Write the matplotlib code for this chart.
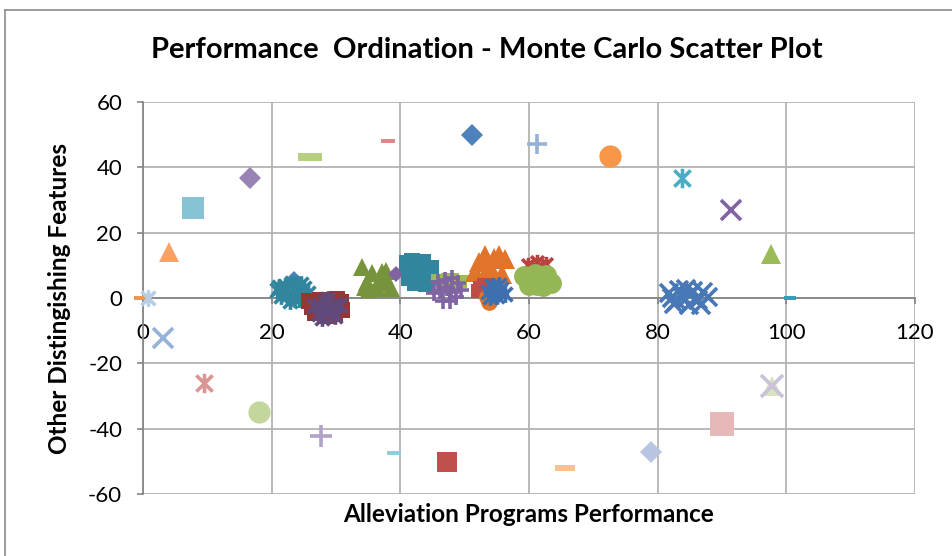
# Performance Ordination - Monte Carlo scatter (Excel style)

import matplotlib
matplotlib.use("Agg")
import matplotlib.pyplot as plt
from matplotlib.path import Path
from matplotlib.lines import Line2D

# ---- data ----
# single ordination points round the circle
outer_x = [-0.5, 0.8, 3.1, 9.5, 18.0, 27.7, 39.0, 47.2, 65.6, 78.9, 90.0, 97.7, 97.7,
           100.6, 97.6, 91.4, 83.8, 72.6, 61.2, 51.1, 38.1, 26.0, 16.6, 7.8, 4.0]
outer_y = [0.0, 0.0, -12.2, -25.9, -34.8, -42.1, -47.3, -50.1, -51.9, -47.0, -38.6, -26.8, -26.8,
           0.0, 13.6, 26.8, 36.8, 43.6, 47.0, 49.8, 48.2, 43.3, 36.8, 27.7, 14.2]

# monte carlo clouds
teal_star_x = [20.8, 21.5, 22.0, 22.6, 23.1, 23.8, 24.3, 25.0, 25.6, 21.2, 22.9, 24.6, 23.5, 22.2]
teal_star_y = [2.5, 0.5, 3.8, 1.2, 4.6, 2.0, -0.3, 3.1, 1.5, 3.3, -0.8, 4.2, 1.0, 2.7]
blue_diam_x = [23.4]
blue_diam_y = [5.5]
red_sq_x = [25.8, 26.7, 27.5, 28.4, 29.3, 30.2, 31.0, 26.3, 28.0, 29.8, 30.8, 27.2]
red_sq_y = [-1.0, -4.5, -0.5, -5.5, -2.0, -0.2, -3.8, -2.8, -3.0, -5.0, -1.2, -1.8]
purp_star_x = [26.6, 27.4, 28.3, 29.0, 29.9, 30.7, 27.9, 28.8, 29.6, 28.1]
purp_star_y = [-2.4, -4.8, -1.2, -3.5, -5.4, -2.0, -6.2, -0.3, -3.9, -3.0]
olive_tri_x = [34.0, 34.8, 35.6, 36.4, 37.2, 38.0, 38.6, 35.2, 36.9, 37.8, 34.5]
olive_tri_y = [9.5, 5.0, 7.8, 3.2, 8.0, 4.6, 3.0, 2.8, 5.8, 8.2, 3.5]
purp_diam_x = [39.4]
purp_diam_y = [7.5]
teal_sq_x = [41.0, 41.8, 42.7, 43.6, 44.5, 41.4, 42.3, 43.2, 44.0, 44.8, 42.0]
teal_sq_y = [10.8, 11.4, 9.0, 11.0, 6.5, 6.0, 4.6, 7.2, 4.4, 9.2, 8.0]
green_dash_x = [46.2, 47.0, 47.8, 48.6, 49.4, 46.8, 48.2, 49.0]
green_dash_y = [6.5, 4.2, 6.8, 4.8, 6.0, 5.4, 5.6, 4.0]
purp_plus_x = [45.2, 45.9, 46.6, 47.3, 48.0, 48.7, 49.4, 46.1, 47.7, 48.9, 46.9, 47.9]
purp_plus_y = [1.5, 4.8, -0.8, 3.0, 6.2, 0.4, 2.5, 2.2, -1.0, 4.6, 5.5, 1.8]
orange_tri_x = [51.6, 52.3, 53.1, 53.9, 54.6, 55.4, 56.2, 52.8, 54.2, 55.8, 53.5]
orange_tri_y = [8.0, 11.0, 13.2, 9.5, 12.2, 13.1, 11.8, 6.0, 6.5, 7.5, 5.0]
red_sq2_x = [52.4, 52.0, 53.0]
red_sq2_y = [3.2, 2.0, 4.0]
orange_circ_x = [53.4, 53.8, 54.0]
orange_circ_y = [0.2, -1.2, 0.9]
blue_star_x = [53.6, 54.3, 55.0, 55.7, 56.3, 54.0, 55.4, 54.8]
blue_star_y = [1.8, 3.6, 0.6, 2.8, 1.2, 0.3, 4.0, 2.2]
red_star_x = [59.8, 60.5, 61.2, 62.0, 62.7, 60.9]
red_star_y = [10.2, 9.0, 11.0, 9.4, 10.5, 8.7]
green_circ_x = [59.2, 60.0, 60.9, 61.8, 62.6, 63.5, 60.4, 62.2, 61.3]
green_circ_y = [6.8, 4.0, 7.2, 5.0, 6.9, 4.6, 5.8, 3.6, 3.9]
blue_x_x = [81.8, 82.5, 83.3, 84.0, 84.8, 85.5, 86.3, 87.1, 87.9, 83.0, 85.0, 86.7, 82.2, 84.4]
blue_x_y = [1.5, -1.8, 2.6, 0.2, -2.2, 2.0, -0.6, 1.8, 0.4, -0.8, 0.9, -2.0, 0.0, 2.9]

xticks = [0, 20, 40, 60, 80, 100, 120]
yticks = [-60, -40, -20, 0, 20, 40, 60]

# ---- excel-like markers ----
star = Path([(-1, -1), (1, 1), (-1, 1), (1, -1), (0, -1.2), (0, 1.2)],
            [Path.MOVETO, Path.LINETO, Path.MOVETO, Path.LINETO, Path.MOVETO, Path.LINETO])
dash = Path([(-1, -0.32), (1, -0.32), (1, 0.32), (-1, 0.32), (-1, -0.32)],
            [Path.MOVETO, Path.LINETO, Path.LINETO, Path.LINETO, Path.CLOSEPOLY])

# marker, colour, size for each outer point (same order as outer_x)
outer_style = [
    (dash, '#F79646', 9), (star, '#B9CDE5', 12), ('x', '#95B3D7', 15), (star, '#D99694', 14),
    ('o', '#C3D69B', 16), ('+', '#B3A2C7', 16), (dash, '#93CDDD', 10), ('s', '#C0504D', 15),
    (dash, '#FAC090', 15), ('D', '#B9C5E0', 11), ('s', '#E6B9B8', 17), ('^', '#D7E4BD', 14),
    ('x', '#CCC1DA', 16), (dash, '#31A0B8', 9), ('^', '#9BBB59', 15), ('x', '#8064A2', 15),
    (star, '#4BACC6', 14), ('o', '#F79646', 16), ('+', '#95B3D7', 15), ('D', '#4F81BD', 11),
    (dash, '#DA8A88', 10), (dash, '#B3CF7F', 17), ('D', '#9983B5', 11), ('s', '#87C3D4', 16),
    ('^', '#F9A266', 15),
]

plt.rcParams['font.family'] = ['Lato', 'DejaVu Sans']
plt.rcParams['axes.unicode_minus'] = False
fig = plt.figure(figsize=(9.52, 5.56), dpi=100)
ax = fig.add_axes([0.1502, 0.1115, 0.8109, 0.705])


def pts(x, y, marker, color, ms, z):
    line_like = marker in ('x', '+') or marker is star
    ax.plot(x, y, ls='none', marker=marker, ms=ms, clip_on=False, zorder=z,
            mfc='none' if line_like else color, mec=color,
            mew=2.6 if line_like else 0.0)


# clouds, in the order excel stacked them
pts(blue_diam_x, blue_diam_y, 'D', '#4F81BD', 9, 3)
pts(teal_star_x, teal_star_y, star, '#31859C', 12, 3)
pts(red_sq_x, red_sq_y, 's', '#953735', 12, 3)
pts(purp_star_x, purp_star_y, star, '#604A7B', 12, 3)
pts(olive_tri_x, olive_tri_y, '^', '#77933C', 13, 3)
pts(purp_diam_x, purp_diam_y, 'D', '#8064A2', 8, 3)
pts(teal_sq_x, teal_sq_y, 's', '#31859C', 11, 3)
pts(green_dash_x, green_dash_y, dash, '#9BBB59', 13, 3)
pts(purp_plus_x, purp_plus_y, '+', '#8064A2', 12, 3)
pts(orange_tri_x, orange_tri_y, '^', '#E0742A', 14, 3)
pts(red_sq2_x, red_sq2_y, 's', '#BE4B48', 10, 3)
pts(orange_circ_x, orange_circ_y, 'o', '#E0742A', 12, 3)
pts(blue_star_x, blue_star_y, star, '#3E6FAE', 12, 3)
pts(red_star_x, red_star_y, star, '#B8423E', 11, 3)
pts(green_circ_x, green_circ_y, 'o', '#94B655', 15, 3)
pts(blue_x_x, blue_x_y, 'x', '#4878B5', 13, 3)

for i in range(len(outer_x)):
    m, c, s = outer_style[i]
    pts([outer_x[i]], [outer_y[i]], m, c, s, 4)

ax.set_xlim(0, 120)
ax.set_ylim(-60, 60)
ax.set_xticks(xticks)
ax.set_yticks(yticks)
ax.grid(True, color='#B3B3B3', lw=1.3)
ax.set_axisbelow(True)

for s in ['top', 'right']:
    ax.spines[s].set_visible(False)
ax.spines['bottom'].set_position(('data', 0))
ax.spines['bottom'].set_color('#868686')
ax.spines['left'].set_color('#868686')
ax.spines['bottom'].set_linewidth(1.3)
ax.spines['left'].set_linewidth(1.3)
ax.tick_params(axis='both', direction='out', length=4, width=1.2, color='#868686',
               labelsize=16)
ax.tick_params(axis='x', pad=14)
ax.tick_params(axis='y', pad=11)

# titles placed in figure pixels, the way excel lays them out
fig.text(487 / 952, 1 - 50 / 556, 'Performance  Ordination - Monte Carlo Scatter Plot',
         fontsize=21, fontweight='bold', ha='center', va='center')
fig.text(529 / 952, 1 - 515 / 556, 'Alleviation Programs Performance',
         fontsize=17.5, fontweight='bold', ha='center', va='center')
fig.text(60 / 952, 1 - 298 / 556, 'Other Distingishing Features', rotation=90,
         fontsize=17.5, fontweight='bold', ha='center', va='center')

# chart area border (only left and top edges are inside the picture)
fig.add_artist(Line2D([5 / 952, 5 / 952], [0, 1 - 10 / 556], color='#8C8C8C', lw=1.2))
fig.add_artist(Line2D([5 / 952, 1], [1 - 10 / 556, 1 - 10 / 556], color='#8C8C8C', lw=1.2))

fig.savefig('out.png', dpi=100)
